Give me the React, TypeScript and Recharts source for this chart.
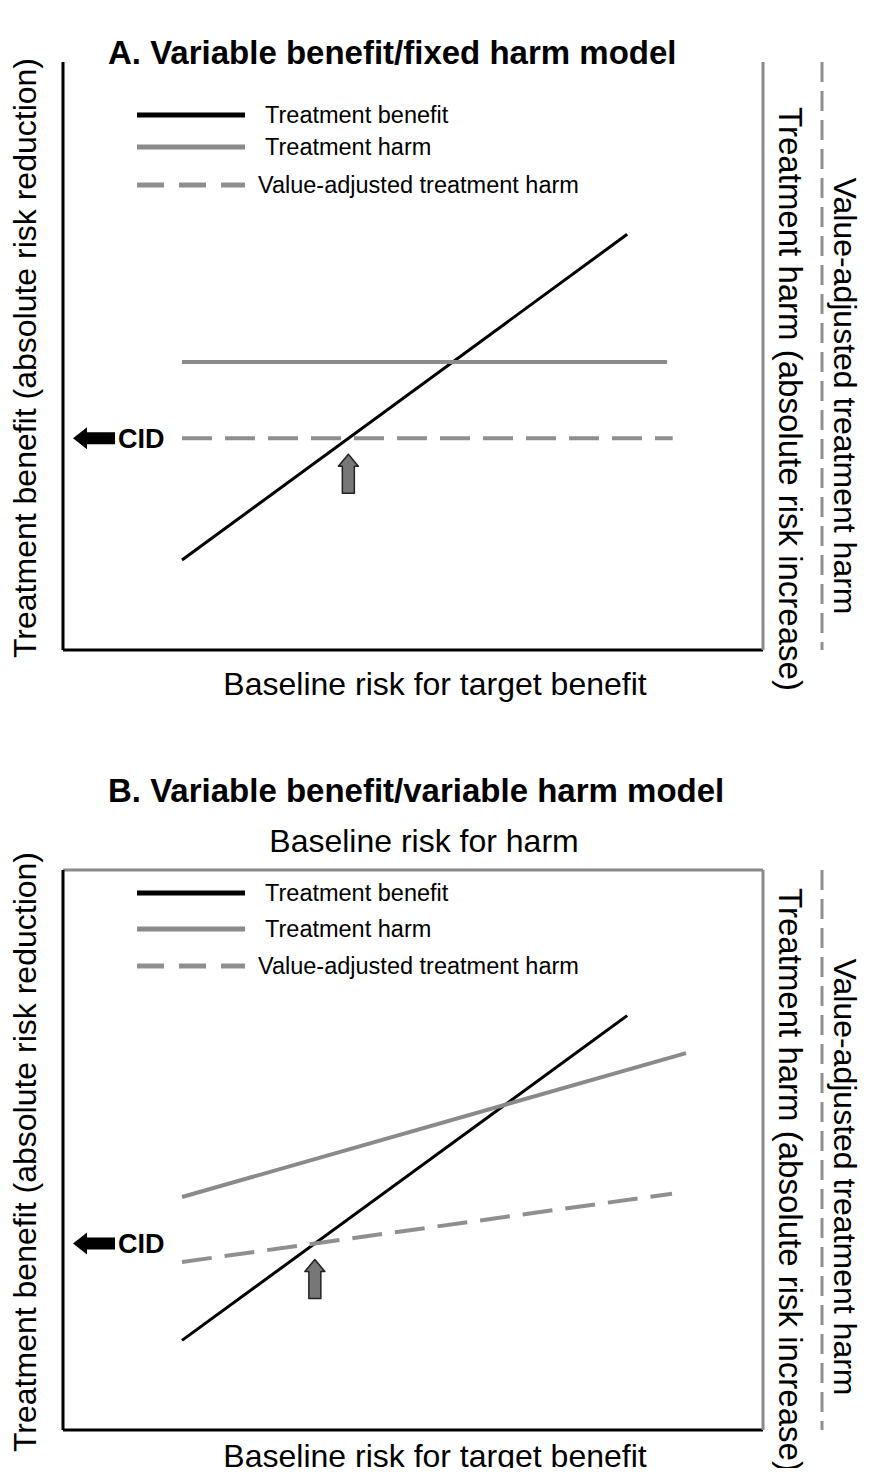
import React from "react";
import { LineChart, Line, XAxis, YAxis, ReferenceDot, Legend } from "recharts";

const FONT = '"Liberation Sans", Arial, Helvetica, sans-serif';
const GREY = "#8a8a8a";

// Panel A: variable benefit / fixed harm (x and y on a 0-100 scale)
const benefitA = [{ x: 17, y: 15.3 }, { x: 80.6, y: 70.7 }];
const harmA = [{ x: 17, y: 49 }, { x: 86.3, y: 49 }];
const adjustedA = [{ x: 17, y: 36 }, { x: 87.1, y: 36 }];

// Panel B: variable benefit / variable harm
const benefitB = [{ x: 17, y: 16 }, { x: 80.6, y: 74 }];
const harmB = [{ x: 17, y: 41.6 }, { x: 89, y: 67.3 }];
const adjustedB = [{ x: 17, y: 30 }, { x: 87, y: 42.2 }];

const seriesNames = ["Treatment benefit", "Treatment harm", "Value-adjusted treatment harm"];
const titles = ["A. Variable benefit/fixed harm model", "B. Variable benefit/variable harm model"];
const xLabel = "Baseline risk for target benefit";
const topLabel = "Baseline risk for harm";
const yLabel = "Treatment benefit (absolute risk reduction)";
const harmAxisLabel = "Treatment harm (absolute risk increase)";
const adjAxisLabel = "Value-adjusted treatment harm";
const cidLabel = "CID";

const lineStyles = [
  { stroke: "#000", width: 3, dash: undefined as string | undefined },
  { stroke: GREY, width: 4, dash: undefined as string | undefined },
  { stroke: "#8f8f8f", width: 4, dash: "30 13" },
];

type Pt = { x: number; y: number };

// where two straight segments meet
const crossing = (a: Pt[], b: Pt[]): Pt => {
  const s1 = (a[1].y - a[0].y) / (a[1].x - a[0].x);
  const s2 = (b[1].y - b[0].y) / (b[1].x - b[0].x);
  const c1 = a[0].y - s1 * a[0].x;
  const c2 = b[0].y - s2 * b[0].x;
  const x = (c2 - c1) / (s1 - s2);
  return { x, y: c1 + s1 * x };
};

const sideLabel = (text: string, dx: number, dy: number, angle: number, size = 32) => (props: any) => {
  const vb = props.viewBox || {};
  const x = vb.x + dx;
  const y = vb.y + vb.height / 2 + dy;
  return (
    <text x={x} y={y} transform={`rotate(${angle} ${x} ${y})`} textAnchor="middle"
      dominantBaseline="central" fontFamily={FONT} fontSize={size} fill="#000">
      {text}
    </text>
  );
};

const flatLabel = (text: string, dx: number, dy: number) => (props: any) => {
  const vb = props.viewBox || {};
  return (
    <text x={vb.x + vb.width / 2 + dx} y={vb.y + dy} textAnchor="middle"
      fontFamily={FONT} fontSize={32} fill="#000">
      {text}
    </text>
  );
};

const CidArrow = (props: any) => {
  const { cx, cy } = props;
  const t = cx + 10;
  return (
    <g>
      <path
        d={`M${t},${cy} L${t + 14},${cy - 11} L${t + 14},${cy - 6} L${t + 42},${cy - 6} L${t + 42},${cy + 6} L${t + 14},${cy + 6} L${t + 14},${cy + 11} Z`}
        fill="#000"
      />
      <text x={t + 45} y={cy + 1} dominantBaseline="central" fontFamily={FONT}
        fontWeight="bold" fontSize={27} fill="#000">
        {cidLabel}
      </text>
    </g>
  );
};

const UpArrow = (props: any) => {
  const { cx, cy } = props;
  const t = cy + 16;
  const b = cy + 55;
  return (
    <path
      d={`M${cx},${t} L${cx + 10},${t + 12} L${cx + 6},${t + 12} L${cx + 6},${b} L${cx - 6},${b} L${cx - 6},${t + 12} L${cx - 10},${t + 12} Z`}
      fill="#777" stroke="#222" strokeWidth={1.5} strokeLinejoin="round"
    />
  );
};

const LegendBox = ({ rows }: { rows: number[] }) => (
  <svg width={480} height={120}>
    {seriesNames.map((name, i) => (
      <g key={name}>
        <line x1={7} x2={115} y1={rows[i]} y2={rows[i]} stroke={lineStyles[i].stroke}
          strokeWidth={5} strokeDasharray={i === 2 ? "27 15" : undefined} />
        <text x={i === 2 ? 128 : 135} y={rows[i]} dominantBaseline="central"
          fontFamily={FONT} fontSize={23.5} fill="#000">
          {name}
        </text>
      </g>
    ))}
  </svg>
);

type PanelProps = {
  title: string;
  titleTop: number;
  chartTop: number;
  height: number;
  marginTop: number;
  bottomHeight: number;
  xLabelDy: number;
  withTopAxis: boolean;
  series: Pt[][];
  legendTop: number;
  legendRows: number[];
  rightDy: number;
  leftDy: number;
};

const Panel = (p: PanelProps) => {
  const [benefit, , adjusted] = p.series;
  const cross = crossing(benefit, adjusted);
  return (
    <>
      <div style={{ position: "absolute", left: 108, top: p.titleTop, fontFamily: FONT, fontWeight: "bold",
        fontSize: 33, lineHeight: "33px", whiteSpace: "nowrap" }}>
        {p.title}
      </div>
      <div style={{ position: "absolute", left: 0, top: p.chartTop }}>
        <LineChart width={871} height={p.height} margin={{ top: p.marginTop, right: 0, bottom: 0, left: 0 }}>
          <XAxis xAxisId="b" type="number" dataKey="x" domain={[0, 100]} allowDataOverflow ticks={[]}
            tick={false} tickLine={false} height={p.bottomHeight}
            axisLine={{ stroke: "#000", strokeWidth: 3 }} label={flatLabel(xLabel, 22, p.xLabelDy)} />
          {p.withTopAxis && (
            <XAxis xAxisId="t" orientation="top" type="number" dataKey="x" domain={[0, 100]} allowDataOverflow
              ticks={[]} tick={false} tickLine={false} height={50}
              axisLine={{ stroke: GREY, strokeWidth: 3 }} label={flatLabel(topLabel, 11, 32)} />
          )}
          <YAxis yAxisId="l" type="number" domain={[0, 100]} allowDataOverflow width={63} ticks={[]}
            tick={false} tickLine={false} axisLine={{ stroke: "#000", strokeWidth: 3 }}
            label={sideLabel(yLabel, 25, p.leftDy, -90)} />
          <YAxis yAxisId="h" orientation="right" type="number" domain={[0, 100]} width={59} ticks={[]}
            tick={false} tickLine={false} axisLine={{ stroke: GREY, strokeWidth: 3 }}
            label={sideLabel(harmAxisLabel, 27, p.rightDy, 90, 33)} />
          <YAxis yAxisId="v" orientation="right" type="number" domain={[0, 100]} width={49} ticks={[]}
            tick={false} tickLine={false} axisLine={{ stroke: "#8f8f8f", strokeWidth: 3, strokeDasharray: "20 9" }}
            label={sideLabel(adjAxisLabel, 23, p.rightDy - 3, 90)} />
          <Legend layout="vertical" align="center" verticalAlign="middle"
            wrapperStyle={{ position: "absolute", left: 130, top: p.legendTop, width: 480, height: 120 }}
            content={() => <LegendBox rows={p.legendRows} />} />
          {p.series.map((pts, i) => (
            <Line key={seriesNames[i]} name={seriesNames[i]} xAxisId="b" yAxisId="l" data={pts}
              dataKey="y" type="linear" stroke={lineStyles[i].stroke} strokeWidth={lineStyles[i].width}
              strokeDasharray={lineStyles[i].dash} dot={false} activeDot={false}
              isAnimationActive={false} />
          ))}
          <ReferenceDot xAxisId="b" yAxisId="l" x={0} y={cross.y} r={0} ifOverflow="visible" shape={CidArrow} />
          <ReferenceDot xAxisId="b" yAxisId="l" x={cross.x} y={cross.y} r={0} ifOverflow="visible" shape={UpArrow} />
        </LineChart>
      </div>
    </>
  );
};

export default function App() {
  return (
    <div style={{ position: "relative", width: 871, height: 1476, margin: -8, background: "#fff", fontFamily: FONT }}>
      <Panel title={titles[0]} titleTop={36} chartTop={0} height={730} marginTop={62} bottomHeight={80}
        xLabelDy={45} withTopAxis={false} series={[benefitA, harmA, adjustedA]} legendTop={95}
        legendRows={[20, 52, 90]} rightDy={43} leftDy={2} />
      <Panel title={titles[1]} titleTop={774} chartTop={740} height={736} marginTop={80} bottomHeight={46}
        xLabelDy={37} withTopAxis={true} series={[benefitB, harmB, adjustedB]} legendTop={133}
        legendRows={[20, 56, 93]} rightDy={30} leftDy={2} />
    </div>
  );
}
